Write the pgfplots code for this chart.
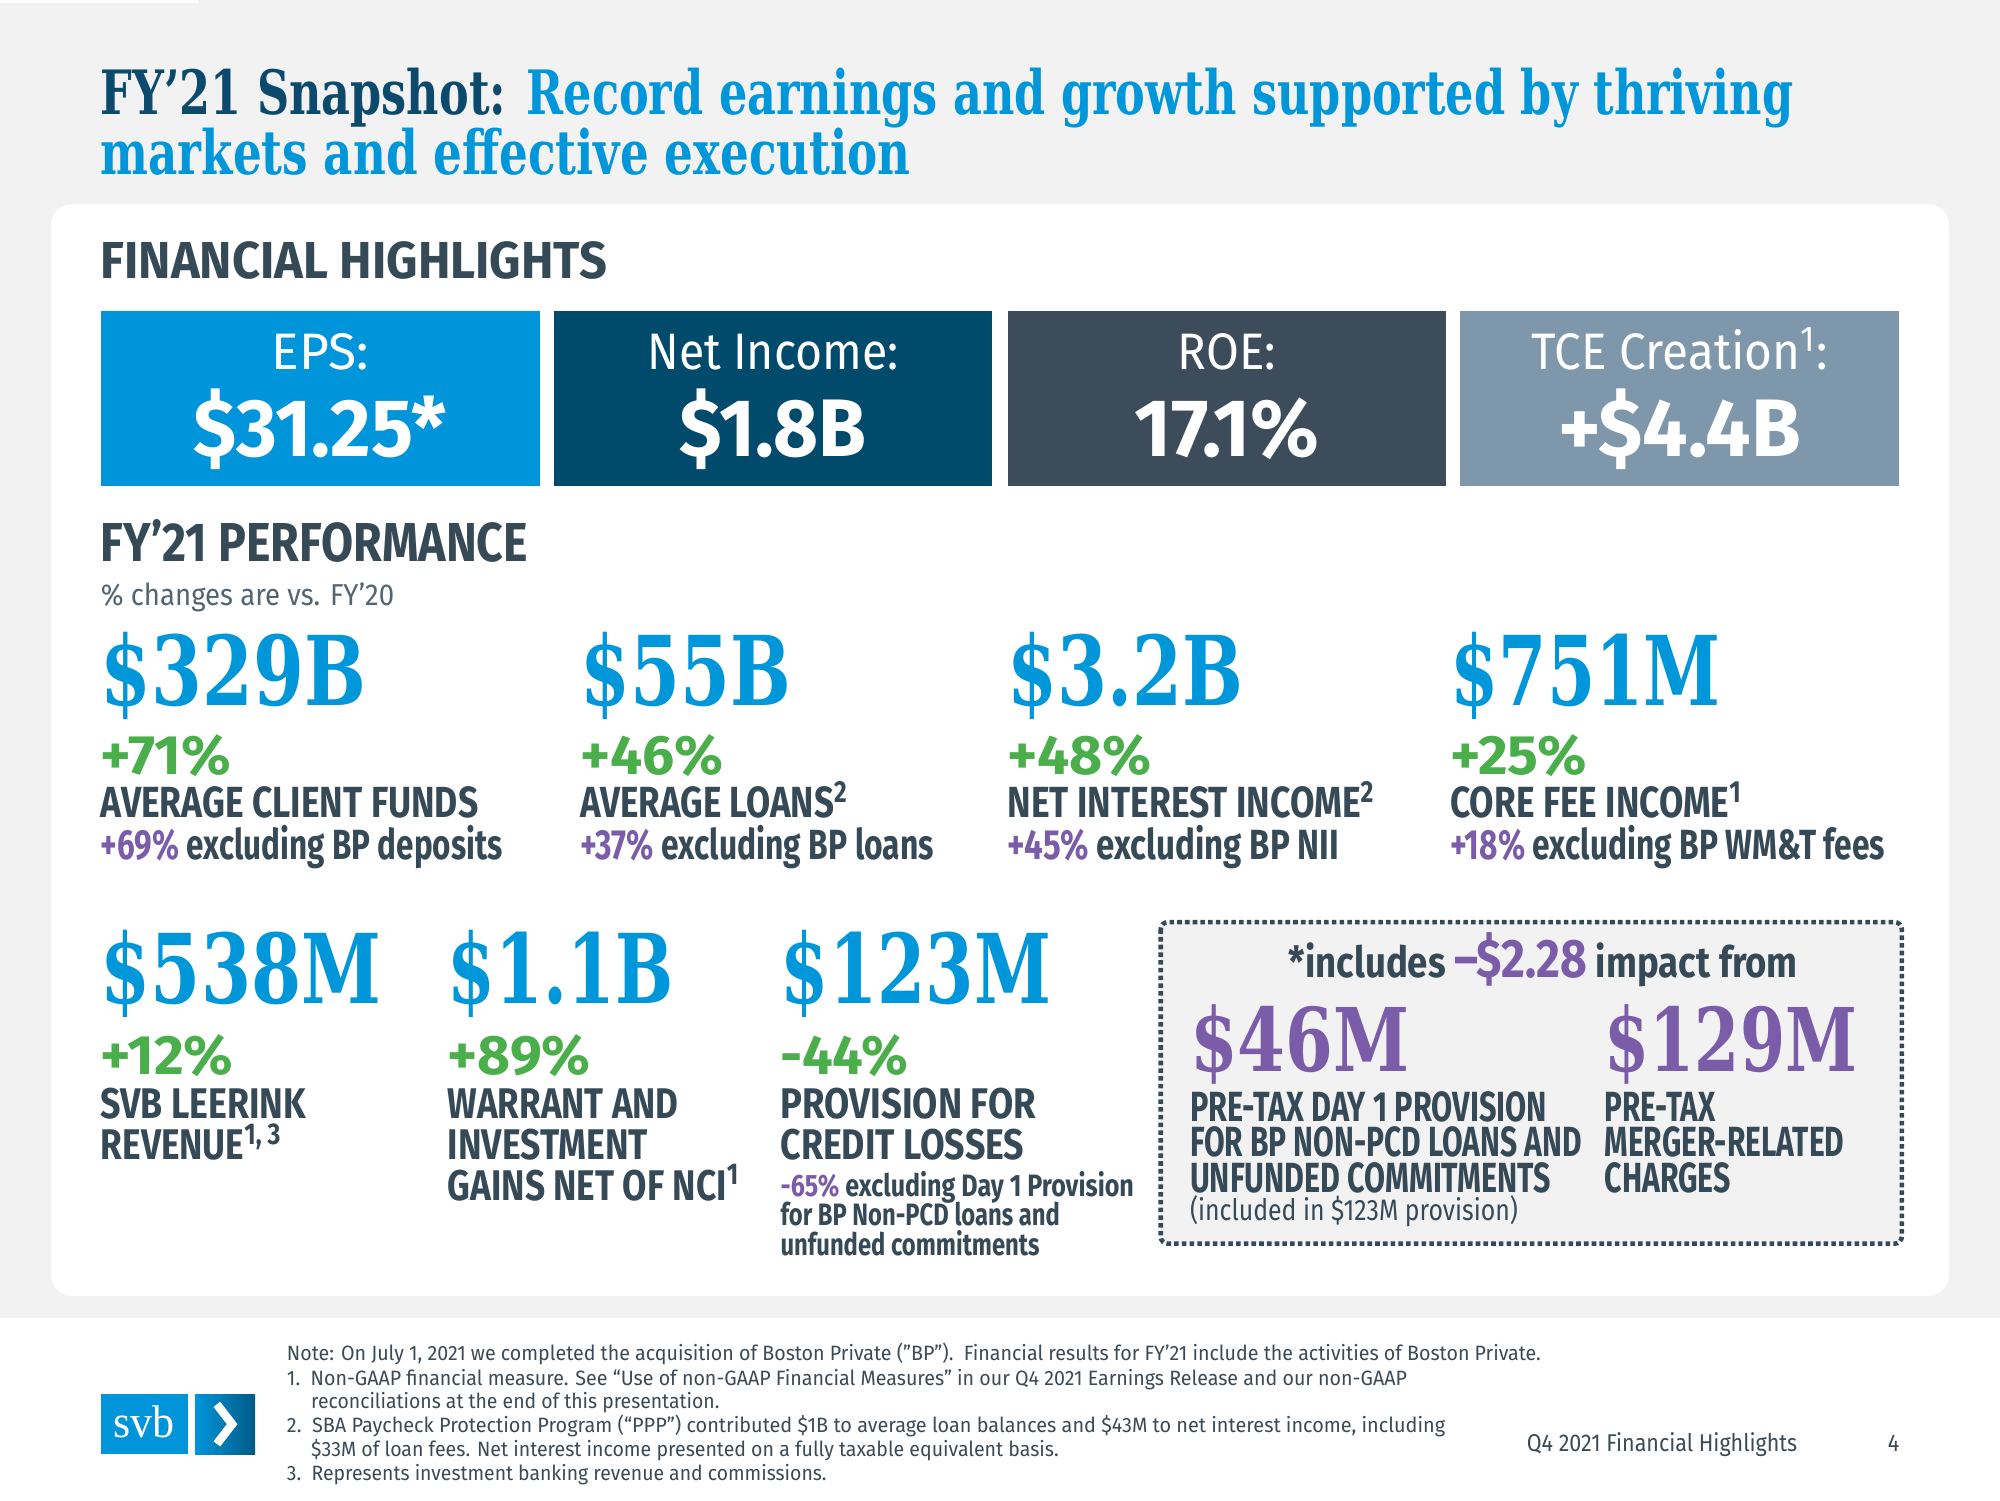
\documentclass[border=0pt]{standalone}
\usepackage{pgfplots}
\pgfplotsset{compat=1.18}
\usepackage{fontspec}
\setmainfont{Fira Sans}
\newfontfamily\slab{DejaVu Serif}
\newfontfamily\logofont{Liberation Serif}
\newlength\ul \setlength\ul{0.36292pt}
\newcommand\T[2]{\resizebox{#1\ul}{\height}{#2}}
\newcommand\fs[1]{\fontsize{#1}{#1}\selectfont}
\definecolor{bg}{HTML}{F2F2F2}
\definecolor{navy}{HTML}{0B4A6C}
\definecolor{sky}{HTML}{0096DA}
\definecolor{slate}{HTML}{364957}
\definecolor{grn}{HTML}{4AAE4B}
\definecolor{purp}{HTML}{7A5CA9}
\definecolor{boxA}{HTML}{0095DA}
\definecolor{boxB}{HTML}{004B6C}
\definecolor{boxC}{HTML}{3C4C5B}
\definecolor{boxD}{HTML}{7F97AB}
\definecolor{note}{HTML}{3C4A56}
\definecolor{arrowdark}{HTML}{005A85}
\tikzset{every node/.append style={inner sep=0pt, outer sep=0pt}}
\begin{document}
\begin{tikzpicture}
\begin{axis}[x=0.36292pt, y=0.36292pt, xmin=0, xmax=1568, ymin=0, ymax=1176,
  y dir=reverse, hide axis, clip=false]
% backgrounds
\addplot[fill=bg, draw=none, forget plot] coordinates {(0,0) (1568,0) (1568,1176) (0,1176)};
\addplot[fill=white, draw=none, forget plot] coordinates {(0,1033) (1568,1033) (1568,1176) (0,1176)};
\addplot[fill=white, draw=none, forget plot] coordinates {(0,0) (155,0) (155,2) (0,2)};
\fill[white, rounded corners=6pt] (axis cs:40,160) rectangle (axis cs:1528,1016);
% title
\node[anchor=base west, inner sep=0pt, text=navy] at (axis cs:79,90) {\T{1327}{\slab\bfseries\fs{17.4}FY’21 Snapshot: \textcolor{sky}{Record earnings and growth supported by thriving}}};
\node[anchor=base west, inner sep=0pt, text=sky] at (axis cs:79,137) {\T{635}{\slab\bfseries\fs{17.4}markets and effective execution}};
% financial highlights
\node[anchor=base west, inner sep=0pt, text=slate] at (axis cs:79,218) {\T{397}{\bfseries\fs{14.8}FINANCIAL HIGHLIGHTS}};
\addplot[fill=boxA, draw=none, forget plot] coordinates {(79,244) (423,244) (423,381) (79,381)};
\addplot[fill=boxB, draw=none, forget plot] coordinates {(434,244) (778,244) (778,381) (434,381)};
\addplot[fill=boxC, draw=none, forget plot] coordinates {(790,244) (1134,244) (1134,381) (790,381)};
\addplot[fill=boxD, draw=none, forget plot] coordinates {(1145,244) (1489,244) (1489,381) (1145,381)};
\node[anchor=base, inner sep=0pt, text=white] at (axis cs:251,290) {\T{76}{\fs{14.6}EPS:}};
\node[anchor=base, inner sep=0pt, text=white] at (axis cs:606,290) {\T{197}{\fs{14.6}Net Income:}};
\node[anchor=base, inner sep=0pt, text=white] at (axis cs:962,290) {\T{77}{\fs{14.6}ROE:}};
\node[anchor=base, inner sep=0pt, text=white] at (axis cs:1317,290) {\T{232}{\fs{14.6}TCE Creation\textsuperscript{1}:}};
\node[anchor=base, inner sep=0pt, text=white] at (axis cs:251,358) {\T{199}{\bfseries\fs{23.2}\$31.25*}};
\node[anchor=base, inner sep=0pt, text=white] at (axis cs:606,358) {\T{147}{\bfseries\fs{23.2}\$1.8B}};
\node[anchor=base, inner sep=0pt, text=white] at (axis cs:962,358) {\T{145}{\bfseries\fs{23.2}17.1\%}};
\node[anchor=base, inner sep=0pt, text=white] at (axis cs:1317,358) {\T{190}{\bfseries\fs{23.2}+\$4.4B}};
% performance
\node[anchor=base west, inner sep=0pt, text=slate] at (axis cs:79,440) {\T{335}{\bfseries\fs{15.6}FY’21 PERFORMANCE}};
\node[anchor=base west, inner sep=0pt, text=slate!85] at (axis cs:79,475) {\T{230}{\fs{8.6}\% changes are vs. FY’20}};
% row 1
\node[anchor=base west, inner sep=0pt, text=sky] at (axis cs:79,553) {\T{208}{\slab\bfseries\fs{27.4}\$329B}};
\node[anchor=base west, inner sep=0pt, text=sky] at (axis cs:455,553) {\T{165}{\slab\bfseries\fs{27.4}\$55B}};
\node[anchor=base west, inner sep=0pt, text=sky] at (axis cs:790,553) {\T{185}{\slab\bfseries\fs{27.4}\$3.2B}};
\node[anchor=base west, inner sep=0pt, text=sky] at (axis cs:1137,553) {\T{212}{\slab\bfseries\fs{27.4}\$751M}};
\node[anchor=base west, inner sep=0pt, text=grn] at (axis cs:79,607) {\T{102}{\bfseries\fs{15.8}+71\%}};
\node[anchor=base west, inner sep=0pt, text=grn] at (axis cs:455,607) {\T{112}{\bfseries\fs{15.8}+46\%}};
\node[anchor=base west, inner sep=0pt, text=grn] at (axis cs:790,607) {\T{113}{\bfseries\fs{15.8}+48\%}};
\node[anchor=base west, inner sep=0pt, text=grn] at (axis cs:1137,607) {\T{107}{\bfseries\fs{15.8}+25\%}};
\node[anchor=base west, inner sep=0pt, text=slate] at (axis cs:79,641) {\T{296}{\bfseries\fs{12.4}AVERAGE CLIENT FUNDS}};
\node[anchor=base west, inner sep=0pt, text=slate] at (axis cs:455,641) {\T{210}{\bfseries\fs{12.4}AVERAGE LOANS\textsuperscript{2}}};
\node[anchor=base west, inner sep=0pt, text=slate] at (axis cs:790,641) {\T{288}{\bfseries\fs{12.4}NET INTEREST INCOME\textsuperscript{2}}};
\node[anchor=base west, inner sep=0pt, text=slate] at (axis cs:1137,641) {\T{229}{\bfseries\fs{12.4}CORE FEE INCOME\textsuperscript{1}}};
\node[anchor=base west, inner sep=0pt, text=slate] at (axis cs:79,674) {\T{315}{\bfseries\fs{12}\textcolor{purp}{+69\%} excluding BP deposits}};
\node[anchor=base west, inner sep=0pt, text=slate] at (axis cs:455,674) {\T{277}{\bfseries\fs{12}\textcolor{purp}{+37\%} excluding BP loans}};
\node[anchor=base west, inner sep=0pt, text=slate] at (axis cs:790,674) {\T{260}{\bfseries\fs{12}\textcolor{purp}{+45\%} excluding BP NII}};
\node[anchor=base west, inner sep=0pt, text=slate] at (axis cs:1137,674) {\T{341}{\bfseries\fs{12}\textcolor{purp}{+18\%} excluding BP WM\&T fees}};
% row 2
\node[anchor=base west, inner sep=0pt, text=sky] at (axis cs:79,787) {\T{220}{\slab\bfseries\fs{27.4}\$538M}};
\node[anchor=base west, inner sep=0pt, text=sky] at (axis cs:351,787) {\T{177}{\slab\bfseries\fs{27.4}\$1.1B}};
\node[anchor=base west, inner sep=0pt, text=sky] at (axis cs:612,787) {\T{212}{\slab\bfseries\fs{27.4}\$123M}};
\node[anchor=base west, inner sep=0pt, text=grn] at (axis cs:79,842) {\T{104}{\bfseries\fs{15.8}+12\%}};
\node[anchor=base west, inner sep=0pt, text=grn] at (axis cs:351,842) {\T{112}{\bfseries\fs{15.8}+89\%}};
\node[anchor=base west, inner sep=0pt, text=grn] at (axis cs:612,842) {\T{100}{\bfseries\fs{15.8}-44\%}};
\node[anchor=base west, inner sep=0pt, text=slate] at (axis cs:79,877) {\T{161}{\bfseries\fs{12.2}SVB LEERINK}};
\node[anchor=base west, inner sep=0pt, text=slate] at (axis cs:79,909) {\T{142}{\bfseries\fs{12.2}REVENUE\textsuperscript{1, 3}}};
\node[anchor=base west, inner sep=0pt, text=slate] at (axis cs:351,877) {\T{181}{\bfseries\fs{12.2}WARRANT AND}};
\node[anchor=base west, inner sep=0pt, text=slate] at (axis cs:351,909) {\T{157}{\bfseries\fs{12.2}INVESTMENT}};
\node[anchor=base west, inner sep=0pt, text=slate] at (axis cs:351,941) {\T{229}{\bfseries\fs{12.2}GAINS NET OF NCI\textsuperscript{1}}};
\node[anchor=base west, inner sep=0pt, text=slate] at (axis cs:612,877) {\T{200}{\bfseries\fs{12.2}PROVISION FOR}};
\node[anchor=base west, inner sep=0pt, text=slate] at (axis cs:612,909) {\T{191}{\bfseries\fs{12.2}CREDIT LOSSES}};
\node[anchor=base west, inner sep=0pt, text=slate] at (axis cs:612,938) {\T{277}{\bfseries\fs{8.8}\textcolor{purp}{-65\%} excluding Day 1 Provision}};
\node[anchor=base west, inner sep=0pt, text=slate] at (axis cs:612,961) {\T{219}{\bfseries\fs{8.8}for BP Non-PCD loans and}};
\node[anchor=base west, inner sep=0pt, text=slate] at (axis cs:612,984) {\T{203}{\bfseries\fs{8.8}unfunded commitments}};
% dotted box
\draw[slate, line width=1.3pt, dash pattern=on 1.3pt off 0.9pt, fill=bg, rounded corners=2pt] (axis cs:910,723) rectangle (axis cs:1491,975);
\node[anchor=base, inner sep=0pt, text=slate] at (axis cs:1210,766) {\T{399}{\bfseries\fs{12.2}*includes \textcolor{purp}{\fs{15.4}–\$2.28} impact from}};
\node[anchor=base west, inner sep=0pt, text=purp] at (axis cs:933,840) {\T{172}{\slab\bfseries\fs{25}\$46M}};
\node[anchor=base west, inner sep=0pt, text=purp] at (axis cs:1258,840) {\T{198}{\slab\bfseries\fs{25}\$129M}};
\node[anchor=base west, inner sep=0pt, text=slate] at (axis cs:933,879) {\T{280}{\bfseries\fs{12}PRE-TAX DAY 1 PROVISION}};
\node[anchor=base west, inner sep=0pt, text=slate] at (axis cs:933,907) {\T{307}{\bfseries\fs{12}FOR BP NON-PCD LOANS AND}};
\node[anchor=base west, inner sep=0pt, text=slate] at (axis cs:933,935) {\T{283}{\bfseries\fs{12}UNFUNDED COMMITMENTS}};
\node[anchor=base west, inner sep=0pt, text=slate] at (axis cs:933,957) {\T{257}{\fs{8.4}(included in \$123M provision)}};
\node[anchor=base west, inner sep=0pt, text=slate] at (axis cs:1258,879) {\T{87}{\bfseries\fs{12}PRE-TAX}};
\node[anchor=base west, inner sep=0pt, text=slate] at (axis cs:1258,907) {\T{188}{\bfseries\fs{12}MERGER-RELATED}};
\node[anchor=base west, inner sep=0pt, text=slate] at (axis cs:1258,935) {\T{99}{\bfseries\fs{12}CHARGES}};
% footer
\addplot[fill=boxA, draw=none, forget plot] coordinates {(79,1093) (147,1093) (147,1140) (79,1140)};
\shade[left color=boxA, right color=arrowdark] (axis cs:153,1093) rectangle (axis cs:200,1140);
\draw[white, line width=2.4pt] (axis cs:170,1101) -- (axis cs:182,1116.5) -- (axis cs:170,1132);
\node[anchor=base, inner sep=0pt, text=white] at (axis cs:113,1127) {\T{48}{\logofont\fs{13}svb}};
\node[anchor=base west, inner sep=0pt, text=note] at (axis cs:225,1067) {\T{983}{\fs{5.9}Note: On July 1, 2021 we completed the acquisition of Boston Private ("BP").\ \ Financial results for FY’21 include the activities of Boston Private.}};
\node[anchor=base west, inner sep=0pt, text=note] at (axis cs:225,1086) {\T{878}{\fs{5.9}1.\ \ Non-GAAP financial measure. See “Use of non-GAAP Financial Measures” in our Q4 2021 Earnings Release and our non-GAAP}};
\node[anchor=base west, inner sep=0pt, text=note] at (axis cs:244,1104.5) {\T{320}{\fs{5.9}reconciliations at the end of this presentation.}};
\node[anchor=base west, inner sep=0pt, text=note] at (axis cs:225,1123) {\T{908}{\fs{5.9}2.\ \ SBA Paycheck Protection Program (“PPP”) contributed \$1B to average loan balances and \$43M to net interest income, including}};
\node[anchor=base west, inner sep=0pt, text=note] at (axis cs:244,1142) {\T{586}{\fs{5.9}\$33M of loan fees. Net interest income presented on a fully taxable equivalent basis.}};
\node[anchor=base west, inner sep=0pt, text=note] at (axis cs:225,1161) {\T{423}{\fs{5.9}3.\ \ Represents investment banking revenue and commissions.}};
\node[anchor=base west, inner sep=0pt, text=note] at (axis cs:1197,1138) {\T{212}{\fs{6.9}Q4 2021 Financial Highlights}};
\node[anchor=base west, inner sep=0pt, text=note] at (axis cs:1480,1138) {\T{9}{\fs{6.9}4}};
\end{axis}
\end{tikzpicture}
\end{document}
